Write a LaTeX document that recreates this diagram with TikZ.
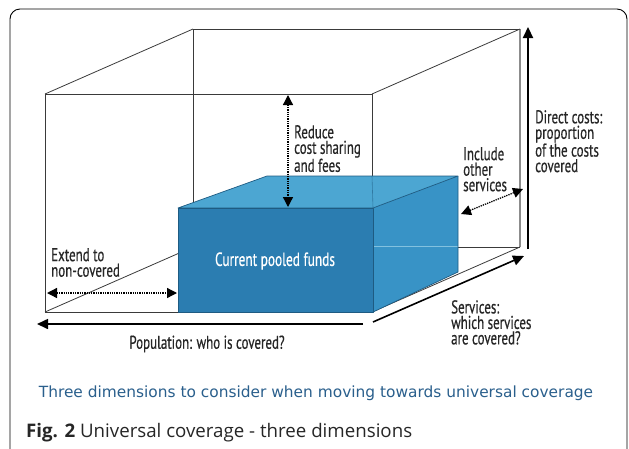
\documentclass[tikz,border=0pt]{standalone}
\usepackage{fontspec}
\usetikzlibrary{arrows.meta}
\newfontfamily\condf[FakeStretch=0.70, FakeBold=0.5]{PT Sans}
\newfontfamily\titlef{DejaVu Sans}
\newfontfamily\capf{Open Sans}
\definecolor{frontblue}{HTML}{2B7DB1}
\definecolor{topblue}{HTML}{4CA6D2}
\definecolor{sideblue}{HTML}{3893C6}
\definecolor{edgeblue}{HTML}{1E5B82}
\definecolor{titleblue}{HTML}{2A5F8C}
\definecolor{wire}{HTML}{3A3A3A}
\tikzset{
  wireline/.style={draw=wire, line width=0.8pt},
  boxedge/.style={draw=edgeblue, line width=0.7pt, line join=round},
  dotarrow/.style={line width=1.3pt, densely dotted, {Triangle[length=10pt,width=10pt]}-{Triangle[length=10pt,width=10pt]}},
  solidarrow/.style={line width=1.6pt, -{Triangle[length=11pt,width=10pt]}},
  lbl/.style={inner sep=0pt, align=left, font=\condf\fontsize{18.5}{15.5}\selectfont, text=black!85},
}
\begin{document}
\begin{tikzpicture}[x=1pt,y=-1pt]
\useasboundingbox (0,0) rectangle (629,448);
\clip (0,0) rectangle (629,448);
% outer frame
\draw[line width=0.9pt, rounded corners=10pt] (10,470) -- (10,9) -- (627,9) -- (627,470);
% wireframe coordinates
\coordinate (FTL) at (45,94);
\coordinate (FTR) at (372,94);
\coordinate (FBL) at (45,312);
\coordinate (FBR) at (372,312);
\coordinate (BTL) at (193,29);
\coordinate (BTR) at (520,29);
\coordinate (BBL) at (193,247);
\coordinate (BBR) at (520,247);
\draw[wireline] (BTL) -- (BTR);
\draw[wireline, line width=1.3pt, draw=black!45] (BTR) -- (BBR);
\draw[wireline] (BTL) -- (BBL) -- (BBR);
\draw[wireline] (FTL) rectangle (FBR);
\draw[wireline] (FTL) -- (BTL);
\draw[wireline] (FTR) -- (BTR);
\draw[wireline] (FBL) -- (BBL);
\draw[wireline] (FBR) -- (BBR);
% pooled funds box
\coordinate (pFTL) at (178,208);
\coordinate (pFTR) at (373,208);
\coordinate (pFBL) at (178,312);
\coordinate (pFBR) at (373,312);
\coordinate (pBTL) at (267,176);
\coordinate (pBTR) at (458,176);
\coordinate (pBBR) at (458,272);
\fill[topblue] (pFTL) -- (pBTL) -- (pBTR) -- (pFTR) -- cycle;
\fill[sideblue] (pFTR) -- (pBTR) -- (pBBR) -- (pFBR) -- cycle;
\fill[frontblue] (pFTL) rectangle (pFBR);
\coordinate (sL) at (373,246.5);
\coordinate (sR) at (458,246.5);
\draw[draw=topblue!70!white, line width=0.8pt] (sL) -- (sR);
\coordinate (tL) at (372,176);
\draw[draw=edgeblue!60!topblue, line width=0.6pt] (tL) -- (pFTR);
\draw[boxedge] (pFTL) -- (pBTL) -- (pBTR) -- (pFTR) -- cycle;
\draw[boxedge] (pBTR) -- (pBBR) -- (pFBR);
\draw[boxedge] (pFTL) rectangle (pFBR);
\node[inner sep=0pt, text=white, font=\condf\fontsize{19}{19}\selectfont] (pool) at (275,261) {Current pooled funds};
% reduce cost sharing arrow
\coordinate (rT) at (288,95);
\coordinate (rB) at (288,207);
\draw[dotarrow] (rT) -- (rB);
\node[lbl, anchor=north west] (reduce) at (294,125) {Reduce\\cost sharing\\and fees};
% include other services
\coordinate (iA) at (461,214);
\coordinate (iB) at (523,189);
\draw[dotarrow] (iA) -- (iB);
\node[lbl, anchor=north west] (include) at (463,147) {Include\\other\\services};
% direct costs
\coordinate (dB) at (528,249);
\coordinate (dT) at (528,27);
\draw[solidarrow, line width=2.2pt] (dB) -- (dT);
\node[lbl, anchor=north west] (direct) at (535,110) {Direct costs:\\proportion\\of the costs\\covered};
% services
\coordinate (sA) at (373,322);
\coordinate (sB) at (524,256);
\draw[solidarrow] (sA) -- (sB);
\node[lbl, anchor=north west] (services) at (451,300) {Services:\\which services\\are covered?};
% population
\coordinate (pA) at (363,324);
\coordinate (pB) at (37,324);
\draw[solidarrow] (pA) -- (pB);
\node[lbl, anchor=center] (population) at (207,344) {Population: who is covered?};
% extend
\coordinate (eA) at (47,293);
\coordinate (eB) at (177,293);
\draw[dotarrow] (eA) -- (eB);
\node[lbl, anchor=north west] (extend) at (51,248) {Extend to\\non-covered};
% title and caption
\node[inner sep=0pt, text=titleblue, font=\titlef\fontsize{15.4}{17}\selectfont] (title) at (316,393) {Three dimensions to consider when moving towards universal coverage};
\node[inner sep=0pt, anchor=base west, font=\capf\fontsize{18.7}{20}\selectfont, text=black!85] (caption) at (26,437) {\textbf{Fig. 2} Universal coverage - three dimensions};
\end{tikzpicture}
\end{document}
